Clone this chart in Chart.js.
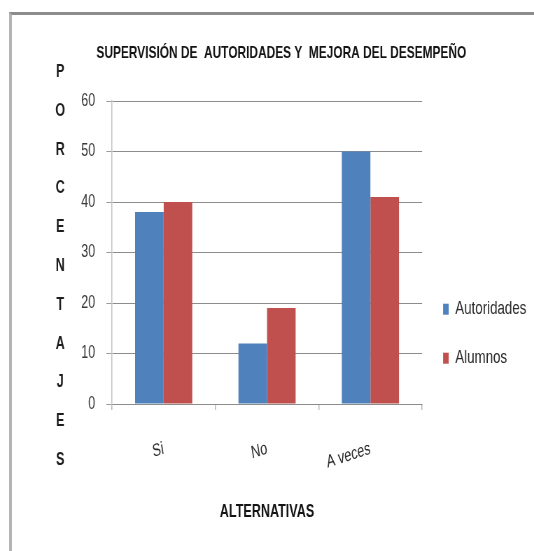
<!DOCTYPE html>
<html>
<head>
<meta charset="utf-8">
<script src="https://cdn.jsdelivr.net/npm/chart.js@4/dist/chart.umd.min.js"></script>
<style>
  html, body { margin: 0; padding: 0; background: #ffffff; overflow: hidden; }
  body { width: 534px; height: 551px; position: relative; }
  #frame {
    position: absolute; left: 9px; top: 12px; width: 540px; height: 560px;
    border-top: 3px solid #8c8c8c; border-left: 3px solid #b4b4b4;
  }
  /* the chart is laid out on a wider canvas and squeezed horizontally,
     which gives the tall, narrow lettering of the printed report */
  #chart {
    position: absolute; left: 0; top: 0;
    transform: scaleX(0.69987); transform-origin: 0 0;
  }
</style>
</head>
<body>
<div id="frame"></div>
<canvas id="chart" width="763" height="551"></canvas>
<script>
const categories = ['Si', 'No', 'A veces'];
const autoridades = [38, 12, 50];
const alumnos = [40, 19, 41];
const yTicks = [0, 10, 20, 30, 40, 50, 60];
const chartTitle = 'SUPERVISIÓN DE  AUTORIDADES Y  MEJORA DEL DESEMPEÑO';
const xTitle = 'ALTERNATIVAS';
const yTitle = 'PORCENTAJES';

const FONT = "'Liberation Sans', Arial, sans-serif";

// y-axis caption written as a column of single letters
const stackedYTitle = {
  id: 'stackedYTitle',
  afterDraw(chart) {
    const ctx = chart.ctx;
    ctx.save();
    ctx.font = 'bold 18px ' + FONT;
    ctx.fillStyle = '#1e1e1e';
    ctx.textAlign = 'center';
    ctx.textBaseline = 'middle';
    const letters = Array.from(yTitle);
    letters.forEach((ch, i) => {
      ctx.fillText(ch, 86, 72 + i * 38.8);
    });
    ctx.restore();
  }
};

new Chart(document.getElementById('chart'), {
  type: 'bar',
  data: {
    labels: categories,
    datasets: [
      { label: 'Autoridades', data: autoridades, backgroundColor: '#4f81bd', borderWidth: 0 },
      { label: 'Alumnos', data: alumnos, backgroundColor: '#c0504d', borderWidth: 0 }
    ]
  },
  options: {
    responsive: false,
    animation: false,
    devicePixelRatio: 1,
    layout: { padding: { left: 42, right: 1, top: 0, bottom: 0 } },
    datasets: { bar: { categoryPercentage: 0.553, barPercentage: 1.0 } },
    plugins: {
      tooltip: { enabled: false },
      title: {
        display: true,
        text: chartTitle,
        color: '#141414',
        font: { family: FONT, size: 17, weight: 'bold' },
        padding: { top: 43, bottom: 37.6 }
      },
      legend: {
        display: true,
        position: 'right',
        title: { display: true, text: ' ', font: { size: 12 }, padding: { top: 51, bottom: 51 } },
        labels: {
          boxWidth: 8,
          boxHeight: 11,
          padding: 30,
          color: '#2a2a2a',
          font: { family: FONT, size: 19 }
        }
      }
    },
    scales: {
      x: {
        afterFit(scale) { scale.height = 147; },
        grid: { display: true, drawOnChartArea: false, drawTicks: true, tickLength: 6, color: '#b8b8b8', lineWidth: 1.5, offset: true },
        border: { display: true, color: '#8c8c8c', width: 1 },
        ticks: {
          color: '#2a2a2a',
          font: { family: FONT, size: 18 },
          minRotation: 13,
          maxRotation: 13,
          padding: 28
        },
        title: {
          display: true,
          text: xTitle,
          color: '#141414',
          font: { family: FONT, size: 18, weight: 'bold' },
          padding: { top: 0, bottom: 28 }
        }
      },
      y: {
        min: 0,
        max: 60,
        afterFit(scale) { scale.width = 118; },
        afterBuildTicks(scale) { scale.ticks = yTicks.map(v => ({ value: v })); },
        grid: { color: '#8c8c8c', lineWidth: 1, tickLength: 8, tickColor: '#9a9a9a' },
        border: { display: true, color: '#c4c4c4', width: 1.5 },
        ticks: {
          color: '#3a3a3a',
          font: { family: FONT, size: 18 },
          padding: 16
        }
      }
    }
  },
  plugins: [stackedYTitle]
});
</script>
</body>
</html>
